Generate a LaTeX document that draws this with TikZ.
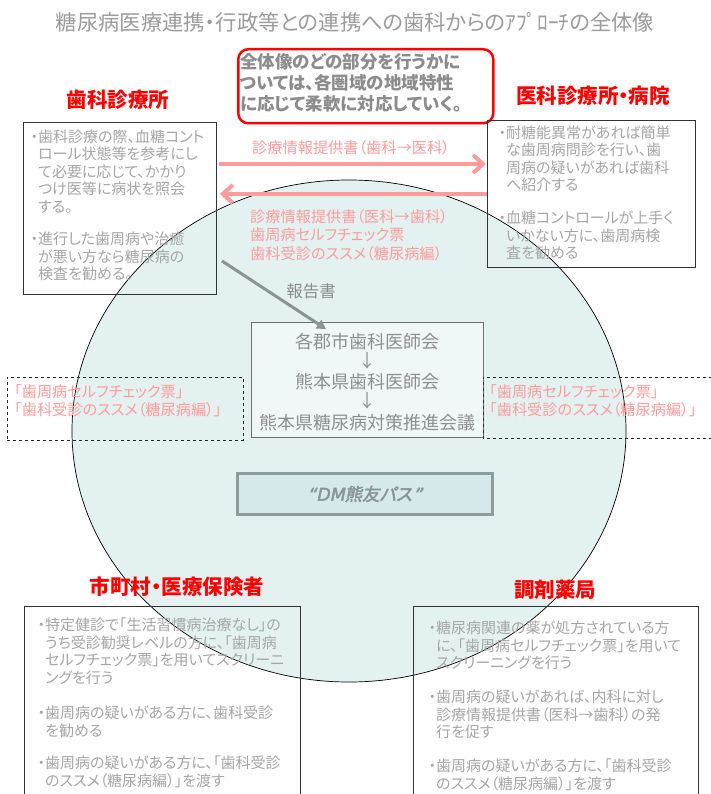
\documentclass[tikz,border=0pt]{standalone}
\usepackage{fontspec}
\setmainfont{Noto Sans CJK JP}[RawFeature=+palt]
\newfontfamily\dmfont{Noto Sans CJK JP}[FakeSlant=0.2,FakeBold=2.5,RawFeature=+palt]
\newfontfamily\dmlat{DejaVu Sans}[FakeSlant=0.2,FakeBold=2.5]
\usetikzlibrary{arrows.meta}
\definecolor{txtgray}{HTML}{A6A6A6}
\definecolor{ttlgray}{HTML}{9C9C9C}
\definecolor{bldgray}{HTML}{8C8C8C}
\definecolor{pinkc}{HTML}{FF9B9B}
\definecolor{redc}{HTML}{FF0000}
\definecolor{circfill}{HTML}{E3F1F1}
\definecolor{cboxfill}{HTML}{EFF7F7}
\definecolor{cboxdraw}{HTML}{707070}
\definecolor{dmfill}{HTML}{D6E9EA}
\definecolor{dmdraw}{HTML}{8E9C9C}
\definecolor{ctxt}{HTML}{8F8F8F}
\definecolor{rptgray}{HTML}{8A9494}
\newcommand\tb[1]{\parbox[t]{320pt}{#1}}
\newcommand\bul{\leavevmode\llap{・}}
\begin{document}
\begin{tikzpicture}[x=1pt,y=-1pt,
  para/.style={anchor=base west, inner sep=0pt, text=txtgray, font=\fontsize{15}{17.5}\selectfont},
  pk/.style={anchor=base west, inner sep=0pt, text=pinkc, font=\fontsize{15.2}{18.3}\selectfont},
  lbl/.style={inner sep=0pt, text=redc, font=\fontsize{20.5}{24}\selectfont\bfseries},
  box/.style={draw=black!80, line width=0.8pt, anchor=north west, inner sep=0pt},
  dline/.style={draw=black!85, dashed, line width=0.7pt},
  parrow/.style={draw=pinkc, line width=4pt, -{Straight Barb[length=10pt,width=18pt]}},
  ctx/.style={inner sep=0pt, text=ctxt, font=\fontsize{18}{22}\selectfont},
  ]
\useasboundingbox (0,0) rectangle (711,794);
\fill[white] (0,0) rectangle (711,794);
% big circle
\draw[fill=circfill, draw=black, line width=0.7pt] (349,431) ellipse [x radius=277pt, y radius=251pt];

% title
\node[inner sep=0pt, text=ttlgray, font=\fontsize{21.3}{24}\selectfont] (title) at (355,22) {糖尿病医療連携・行政等との連携への歯科からのｱﾌﾟﾛｰﾁの全体像};

% red rounded box
\node[draw=redc, line width=2.5pt, rounded corners=10pt, anchor=north west, minimum width=255pt, minimum height=74pt, inner sep=0pt] (note) at (237,48) {};
\node[anchor=base west, inner sep=0pt, text=bldgray, font=\fontsize{17.5}{21}\selectfont\bfseries] (notetxt) at (240,68.5) {\tb{全体像のどの部分を行うかに\\ついては、各圏域の地域特性\\に応じて柔軟に対応していく。}};

% labels
\node[lbl] (shika) at (118,100) {歯科診療所};
\node[lbl] (ika) at (593,96) {医科診療所・病院};
\node[lbl] (shicho) at (177,587) {市町村・医療保険者};
\node[lbl] (yakkyoku) at (555,590) {調剤薬局};

% left box
\node[box, minimum width=193pt, minimum height=172pt] (lbox) at (23,122) {};
\node[para] (lp1) at (38,142.5) {\tb{\bul 歯科診療の際、血糖コント\\ロール状態等を参考にし\\て必要に応じて、かかり\\つけ医等に病状を照会\\する。}};
\node[para] (lp2) at (38,244.5) {\tb{\bul 進行した歯周病や治癒\\が悪い方なら糖尿病の\\検査を勧める。}};

% right box
\node[box, minimum width=208pt, minimum height=147pt] (rbox) at (487,120) {};
\node[para] (rp1) at (506,138.5) {\tb{\bul 耐糖能異常があれば簡単\\な歯周病問診を行い、歯\\周病の疑いがあれば歯科\\へ紹介する}};
\node[para] (rp2) at (506,223.5) {\tb{\bul 血糖コントロールが上手く\\いかない方に、歯周病検\\査を勧める}};

% pink arrows
\coordinate (ya) at (0,164);
\coordinate (yb) at (0,194);
\draw[parrow] ([xshift=2pt]lbox.east |- ya) -- ([xshift=-1pt]rbox.west |- ya);
\draw[parrow] (rbox.west |- yb) -- ([xshift=3pt]lbox.east |- yb);
\node[inner sep=0pt, text=pinkc, font=\fontsize{15.2}{18}\selectfont] (a1lbl) at (351,148) {診療情報提供書（歯科→医科）};
\node[pk] (a2lbl) at (250,222.5) {\tb{診療情報提供書（医科→歯科）\\歯周病セルフチェック票\\歯科受診のススメ（糖尿病編）}};

% center box
\node[box, draw=cboxdraw, line width=1.2pt, fill=cboxfill, minimum width=232pt, minimum height=115pt] (cbox) at (251,322) {};
\node[ctx] (c1) at (367,342) {各郡市歯科医師会};
\node[ctx] (c2) at (367,361) {↓};
\node[ctx] (c3) at (367,382) {熊本県歯科医師会};
\node[ctx] (c4) at (367,401) {↓};
\node[ctx] (c5) at (367,423) {熊本県糖尿病対策推進会議};

% report arrow
\coordinate (rs) at (222,261);
\coordinate (re) at (326,329);
\draw[draw=rptgray, line width=3pt, -{Triangle[length=9pt,width=10pt]}] (rs) -- (re);
\node[inner sep=0pt, text=bldgray, font=\fontsize{16.5}{20}\selectfont] (hokoku) at (311,291) {報告書};

% dashed boxes
\node[anchor=north west, inner sep=0pt, minimum width=236pt, minimum height=63pt, dline] (dl) at (7,377) {};
\node[pk] (dlt) at (14,397.5) {\tb{「歯周病セルフチェック票」\\「歯科受診のススメ（糖尿病編）」}};
\coordinate (dr1) at (483,377);
\coordinate (dr2) at (483,438);
\coordinate (dr3) at (712,377);
\coordinate (dr4) at (712,438);
\draw[dline] (dr3) -- (dr1) -- (dr2) -- (dr4);
\node[pk] (drt) at (489,397.5) {\tb{「歯周病セルフチェック票」\\「歯科受診のススメ（糖尿病編）」}};

% DM box
\node[box, draw=dmdraw, line width=3pt, fill=dmfill, minimum width=255pt, minimum height=41pt] (dm) at (236,472) {};
\node[inner sep=0pt, text=rptgray, font=\fontsize{17.5}{22}\selectfont] (dmt) at (dm.center) {{\dmlat “DM}{\dmfont 熊友パス}\hspace{1.5pt}{\dmlat ”}};

% bottom left box
\node[box, minimum width=276pt, minimum height=200pt] (blbox) at (24,606) {};
\node[para] (bl1) at (45,630.5) {\tb{\bul 特定健診で「生活習慣病治療なし」の\\うち受診勧奨レベルの方に、「歯周病\\セルフチェック票」を用いてスクリーニ\\ングを行う}};
\node[para] (bl2) at (45,718.5) {\tb{\bul 歯周病の疑いがある方に、歯科受診\\を勧める}};
\node[para] (bl3) at (45,768.5) {\tb{\bul 歯周病の疑いがある方に、「歯科受診\\のススメ（糖尿病編）」を渡す}};

% bottom right box
\node[box, minimum width=285pt, minimum height=200pt] (brbox) at (413,606) {};
\node[para] (br1) at (436,633.5) {\tb{\bul 糖尿病関連の薬が処方されている方\\に、「歯周病セルフチェック票」を用いて\\スクリーニングを行う}};
\node[para] (br2) at (436,702.5) {\tb{\bul 歯周病の疑いがあれば、内科に対し\\診療情報提供書（医科→歯科）の発\\行を促す}};
\node[para] (br3) at (436,771.5) {\tb{\bul 歯周病の疑いがある方に、「歯科受診\\のススメ（糖尿病編）」を渡す}};
\end{tikzpicture}
\end{document}
